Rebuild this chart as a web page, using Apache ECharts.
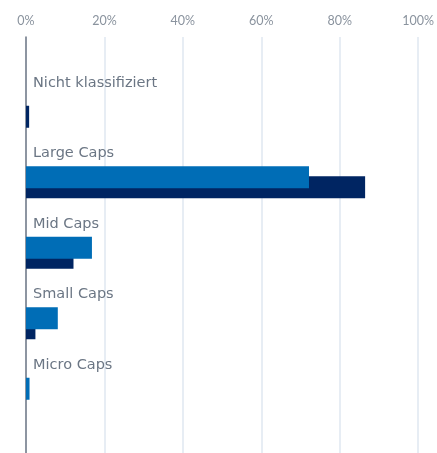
<!DOCTYPE html>
<html>
<head>
<meta charset="utf-8">
<script src="https://cdn.jsdelivr.net/npm/echarts@6/dist/echarts.min.js"></script>
<style>html,body{margin:0;padding:0;background:#fff}#c{width:437px;height:453px}</style>
</head>
<body>
<div id="c"></div>
<script>
const categories = ['Nicht klassifiziert', 'Large Caps', 'Mid Caps', 'Small Caps', 'Micro Caps'];
const seriesLight = [0, 72.1, 16.8, 8.1, 0.9];
const seriesDark = [0.8, 86.4, 12.1, 2.4, 0];
const tickValues = [0, 20, 40, 60, 80, 100];

const FONT = '"DejaVu Sans", sans-serif';
const TICKFONT = 'Lato, sans-serif';
const chart = echarts.init(document.getElementById('c'), null, {renderer: 'canvas'});
chart.setOption({
  animation: false,
  grid: [
    {left: 26, right: 18.5, top: 37, bottom: 0},
    {left: 26, right: 18.5, top: 76.5, bottom: 24}
  ],
  xAxis: [
    {gridIndex: 0, type: 'value', position: 'top', min: tickValues[0], max: tickValues[tickValues.length-1], interval: 20,
     axisLine: {show: false}, axisTick: {show: false},
     axisLabel: {formatter: '{value}%', color: '#8a939e', fontFamily: TICKFONT, fontSize: 12.5, margin: 10},
     splitLine: {show: true, lineStyle: {color: '#dfe7f0', width: 1.5}}},
    {gridIndex: 1, type: 'value', min: 0, max: 100, show: false}
  ],
  yAxis: [
    {gridIndex: 0, type: 'category', data: [''], axisLine: {show: true, lineStyle: {color: '#6f7986', width: 1.5}},
     axisTick: {show: false}, axisLabel: {show: false}},
    {gridIndex: 1, type: 'category', data: categories, inverse: true,
     axisLine: {show: false}, axisTick: {show: false},
     axisLabel: {inside: true, margin: 7, verticalAlign: 'middle', interval: 0,
                 showMinLabel: true, showMaxLabel: true, hideOverlap: false,
                 formatter: v => '{t|' + v + '}\n{s| }',
                 rich: {
                   t: {color: '#6b7684', fontFamily: FONT, fontSize: 14.5, lineHeight: 16},
                   s: {height: 58, lineHeight: 58, fontSize: 1}
                 }},
     z: 10}
  ],
  series: [
    {type: 'bar', xAxisIndex: 1, yAxisIndex: 1, data: seriesLight, barWidth: 22, barGap: '-54.5%',
     itemStyle: {color: '#006db6'}, z: 3},
    {type: 'bar', xAxisIndex: 1, yAxisIndex: 1, data: seriesDark, barWidth: 22, barGap: '-54.5%',
     itemStyle: {color: '#002562'}, z: 2}
  ]
});
</script>
</body>
</html>
